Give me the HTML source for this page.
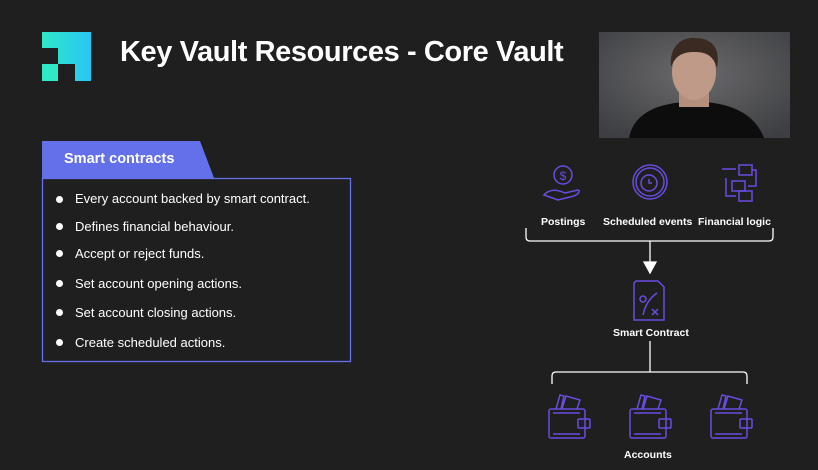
<!DOCTYPE html><html><head><style>
body{margin:0;width:818px;height:470px;background:#1f1f1f;overflow:hidden;position:relative;font-family:"Liberation Sans",sans-serif;color:#fff}
.a{position:absolute}
</style></head><body>
<svg class="a" style="left:42px;top:32px" width="50" height="50"><defs><linearGradient id="g" x1="0" y1="0" x2="1" y2="0"><stop offset="0" stop-color="#2ee8c6"/><stop offset="1" stop-color="#2ac6f5"/></linearGradient></defs><path d="M0 0H49V49H33V32H16V16H0Z" fill="url(#g)"/><rect x="0" y="32" width="16" height="17" fill="#2ee8c6"/></svg>
<div class="a" style="left:120px;top:36px;font-size:29px;font-weight:bold;letter-spacing:-0.4px">Key Vault Resources - Core Vault</div>
<svg class="a" style="left:599px;top:32px" width="191" height="106"><defs><radialGradient id="bg" cx="0.5" cy="0.4" r="0.7"><stop offset="0" stop-color="#6a6a6c"/><stop offset="1" stop-color="#3e3f42"/></radialGradient></defs><rect width="191" height="106" fill="url(#bg)"/><path d="M30 106C35 80 60 72 85 70L106 70C130 72 155 80 165 106Z" fill="#0d0d0e"/><rect x="80" y="50" width="30" height="25" fill="#b58f7e"/><ellipse cx="95" cy="40" rx="22" ry="28" fill="#c09a88"/><path d="M72 35C70 12 85 5 96 6C112 6 122 15 118 36C114 22 105 20 95 20C82 20 76 25 72 35Z" fill="#3a2a22"/></svg>
<svg class="a" style="left:0;top:0" width="818" height="470">
<path d="M42 141H200L214 178H42Z" fill="#6470ea"/>
<rect x="42.5" y="178.5" width="308" height="183" fill="none" stroke="#6470ea" stroke-width="1.3"/>
</svg>
<div class="a" style="left:64px;top:151px;font-size:14.5px;font-weight:bold">Smart contracts</div>
<div class="a" style="left:0;top:0;font-size:13px">
<div class="a" style="left:56px;top:196px;width:7px;height:7px;border-radius:50%;background:#fff"></div><div class="a" style="left:75px;top:191px;white-space:nowrap">Every account backed by smart contract.</div>
<div class="a" style="left:56px;top:223px;width:7px;height:7px;border-radius:50%;background:#fff"></div><div class="a" style="left:75px;top:219px;white-space:nowrap">Defines financial behaviour.</div>
<div class="a" style="left:56px;top:250px;width:7px;height:7px;border-radius:50%;background:#fff"></div><div class="a" style="left:75px;top:246px;white-space:nowrap">Accept or reject funds.</div>
<div class="a" style="left:56px;top:280px;width:7px;height:7px;border-radius:50%;background:#fff"></div><div class="a" style="left:75px;top:276px;white-space:nowrap">Set account opening actions.</div>
<div class="a" style="left:56px;top:309px;width:7px;height:7px;border-radius:50%;background:#fff"></div><div class="a" style="left:75px;top:305px;white-space:nowrap">Set account closing actions.</div>
<div class="a" style="left:56px;top:339px;width:7px;height:7px;border-radius:50%;background:#fff"></div><div class="a" style="left:75px;top:335px;white-space:nowrap">Create scheduled actions.</div>
</div>
<svg class="a" style="left:0;top:0" width="818" height="470" fill="none" stroke="#6a4ce0" stroke-width="1.5">
<circle cx="563" cy="175" r="9"/><text x="563" y="180" font-size="12" fill="#6a4ce0" stroke="none" text-anchor="middle">$</text>
<path d="M544 195C550 188 558 190 565 193L578 190C581 191 578 194 574 196L558 200Z"/>
<circle cx="650" cy="182" r="17"/><circle cx="650" cy="182" r="14"/><circle cx="649" cy="183" r="8"/><path d="M649 179V183H652"/>
<rect x="739" y="165" width="13" height="10"/><rect x="732" y="181" width="13" height="10"/><rect x="739" y="191" width="13" height="10"/><path d="M722 169H736M752 170H756V186H748M726 178V196H736"/>
<path d="M636 281H658L664 287V320H634V283Z"/><circle cx="643" cy="299" r="3"/><path d="M643 315C645 305 650 298 657 293M652 309L658 315M658 309L652 315"/>
<g id="w"><rect x="549" y="409" width="36" height="29" rx="2"/><rect x="578" y="419" width="12" height="9" rx="1"/><path d="M556 409L560 395L564 396L561 409M562 409L566 396L580 400L577 409"/><path d="M553 413H580M553 434H580"/></g>
<use href="#w" x="81"/><use href="#w" x="162"/>
</svg>
<svg class="a" style="left:0;top:0" width="818" height="470" fill="none" stroke="#fff" stroke-width="1.3">
<path d="M526 228V237Q526 241 530 241H769Q773 241 773 237V228M650 241V262"/>
<path d="M644 262H656L650 273Z" fill="#fff"/>
<path d="M650 341V372M552 384V376Q552 372 556 372H743Q747 372 747 376V384"/>
</svg>
<div class="a" style="font-size:10.5px;font-weight:bold;white-space:nowrap">
<div class="a" style="left:541px;top:216px">Postings</div>
<div class="a" style="left:603px;top:216px">Scheduled events</div>
<div class="a" style="left:698px;top:216px">Financial logic</div>
<div class="a" style="left:613px;top:327px">Smart Contract</div>
<div class="a" style="left:624px;top:449px">Accounts</div>
</div>
</body></html>
